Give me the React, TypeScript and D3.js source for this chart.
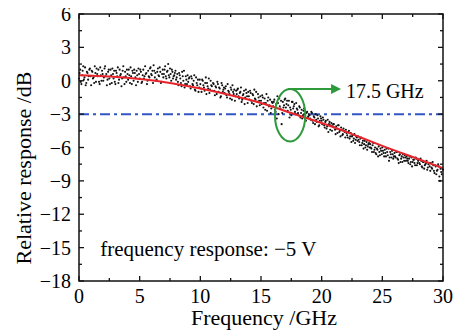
import React from "react";
import * as d3 from "d3";

const FREQ_STEP = 0.1;
// measured relative response (dB), trace A: one value per 0.1 GHz from 0 to 30 GHz
const responseA: number[] = [
  0.2, 1.0, -0.3, 0.9, 0.1, 1.2, -0.2, 0.7, 0.4, 1.1,
  -0.4, 0.8, 0.3, 1.3, -0.1, 0.6, 1.0, -0.3, 0.5, 0.9,
  0.0, 1.1, 0.4, -0.4, 0.8, 0.2, 1.0, -0.2, 0.6, 0.9,
  -0.3, 0.7, 1.2, 0.1, 0.5, -0.5, 0.9, 0.3, 0.8, -0.1,
  0.6, 1.0, -0.2, 0.4, 0.9, 0.0, 0.7, -0.4, 0.5, 1.1,
  0.2, 0.8, -0.1, 1.0, 0.4, 0.6, -0.3, 0.9, 0.3, 1.2,
  0.5, -0.2, 0.9, 0.7, 0.1, 1.1, 0.4, 0.8, -0.1, 1.0,
  0.6, 1.3, 0.2, 0.9, 0.5, 1.1, 0.0, 0.8, 0.4, 0.7,
  0.1, 0.6, -0.4, 0.5, -0.2, 0.8, 0.0, -0.6, 0.4, -0.3,
  -0.1, 0.3, -0.7, 0.2, -0.4, 0.5, -0.9, -0.2, 0.1, -0.6,
  -0.3, -1.0, 0.0, -0.6, -0.2, -1.2, -0.5, 0.2, -0.8, -0.4,
  -0.9, -0.3, -1.3, -0.6, -0.1, -1.0, -0.7, -1.4, -0.4, -0.8,
  -1.1, -0.5, -1.5, -0.9, -1.2, -0.6, -1.7, -1.0, -0.8, -1.4,
  -1.2, -0.7, -1.6, -1.0, -1.9, -1.3, -0.9, -1.5, -1.1, -2.0,
  -1.4, -0.9, -1.8, -1.2, -2.1, -1.6, -1.0, -1.9, -1.5, -2.2,
  -1.8, -1.3, -2.4, -1.6, -2.0, -2.7, -1.5, -2.2, -2.9, -1.9,
  -2.3, -1.7, -2.8, -3.4, -2.0, -1.6, -2.5, -3.9, -1.9, -2.2,
  -1.6, -2.1, -2.7, -1.8, -2.4, -3.1, -1.9, -2.3, -2.8, -2.0,
  -2.6, -3.1, -2.4, -2.9, -3.4, -2.7, -3.0, -3.6, -2.8, -3.2,
  -3.1, -3.5, -2.9, -3.8, -3.3, -3.0, -3.7, -3.4, -4.0, -3.2,
  -3.6, -3.3, -4.0, -3.7, -4.3, -3.5, -3.9, -4.4, -3.8, -4.1,
  -3.9, -4.4, -4.1, -4.7, -4.0, -4.5, -4.2, -4.9, -4.3, -4.6,
  -4.4, -4.9, -4.6, -5.2, -4.7, -5.0, -5.4, -4.8, -5.3, -5.1,
  -5.0, -5.5, -5.2, -5.8, -5.4, -5.7, -6.0, -5.5, -5.9, -5.6,
  -5.7, -6.1, -5.8, -6.4, -6.0, -6.6, -6.2, -5.9, -6.7, -6.3,
  -6.0, -6.5, -6.2, -6.8, -6.4, -6.1, -6.9, -6.6, -6.3, -7.0,
  -6.5, -6.9, -6.4, -7.1, -6.7, -7.3, -6.8, -6.6, -7.2, -6.9,
  -6.8, -7.2, -7.0, -7.5, -6.9, -7.3, -7.1, -7.6, -7.0, -7.4,
  -7.1, -7.5, -7.2, -7.8, -7.3, -7.6, -7.4, -8.0, -7.5, -7.7,
  -7.4, -7.9, -7.6, -8.3, -7.7, -8.1, -7.5, -8.6, -7.9, -8.4,
  -8.0,
];

// trace B: same sweep, sampled half a step later (0.05 GHz offset)
const responseB: number[] = [
  0.7, -0.1, 0.5, 1.3, 0.3, -0.4, 0.8, 0.1, 1.0, 0.4,
  0.9, 0.2, -0.2, 0.7, 1.1, 0.4, -0.1, 1.2, 0.0, 0.6,
  0.3, 1.3, 0.6, 0.1, 1.0, -0.3, 0.5, 1.1, 0.2, -0.1,
  0.9, 0.4, -0.2, 1.0, 0.6, 0.2, 1.3, -0.3, 0.4, 1.0,
  0.1, 0.5, 1.2, -0.3, 0.7, 1.0, 0.3, 0.9, -0.1, 0.6,
  1.0, -0.2, 0.5, 0.2, 1.3, 0.7, 0.0, 0.4, 1.1, 0.6,
  0.9, 1.4, 0.3, 0.0, 0.8, 0.5, 1.2, -0.2, 0.6, 0.3,
  1.0, 0.4, 0.8, 1.5, 0.3, 0.6, 1.0, 0.2, 0.5, 0.9,
  0.3, -0.1, 0.7, 0.2, -0.5, 0.4, 0.9, -0.3, 0.1, 0.5,
  0.2, -0.5, 0.4, -0.3, 0.0, -0.8, 0.3, -0.4, -1.0, 0.1,
  -0.7, 0.1, -0.4, -0.9, 0.3, -0.2, -0.7, -1.1, 0.0, -0.5,
  -0.2, -0.9, -0.5, -1.2, -0.3, -0.6, -1.5, -0.2, -1.0, -0.6,
  -0.7, -1.3, -0.3, -1.0, -1.6, -0.8, -0.4, -1.2, -1.8, -0.9,
  -0.8, -1.4, -1.1, -0.6, -1.7, -1.2, -2.1, -0.8, -1.4, -1.0,
  -1.7, -1.1, -2.0, -1.3, -0.8, -1.7, -2.3, -1.2, -1.8, -1.4,
  -2.1, -1.5, -2.0, -2.6, -1.2, -1.8, -2.3, -1.7, -2.5, -2.0,
  -1.9, -2.6, -2.1, -1.4, -3.0, -2.3, -1.8, -2.9, -2.4, -1.7,
  -2.4, -1.8, -2.2, -3.3, -2.6, -1.9, -2.5, -2.1, -3.0, -2.5,
  -2.9, -2.3, -3.3, -2.6, -3.1, -2.5, -3.5, -2.9, -3.3, -3.0,
  -3.4, -2.8, -3.6, -3.2, -3.9, -3.5, -3.1, -4.1, -3.6, -3.4,
  -3.9, -3.5, -4.2, -3.6, -4.1, -4.6, -3.7, -4.0, -4.5, -3.9,
  -4.2, -4.8, -4.3, -4.0, -4.6, -5.0, -4.4, -4.8, -4.5, -5.1,
  -4.7, -5.1, -4.5, -5.0, -5.5, -4.9, -5.2, -5.6, -5.0, -5.4,
  -5.3, -5.8, -5.1, -5.6, -6.1, -5.4, -5.8, -6.2, -5.7, -6.0,
  -6.0, -6.4, -5.6, -6.2, -6.5, -6.1, -6.8, -6.4, -6.1, -6.6,
  -6.3, -6.8, -6.5, -6.1, -6.7, -7.2, -6.4, -6.9, -6.6, -6.8,
  -6.8, -6.4, -7.0, -7.4, -6.6, -7.0, -7.3, -6.9, -6.7, -7.2,
  -7.0, -7.4, -6.8, -7.3, -7.7, -7.1, -7.4, -6.9, -7.6, -7.2,
  -7.4, -7.0, -7.7, -7.3, -7.9, -7.5, -7.2, -7.8, -7.4, -8.1,
  -7.8, -7.3, -8.1, -7.6, -8.4, -8.0, -7.7, -9.0, -8.2, -7.9,
];

// fitted curve
const fitFreq = [0, 2.5, 5, 7.5, 10, 12.5, 15, 17.5, 20, 22.5, 25, 27.5, 30];
const fitDb = [0.5, 0.38, 0.15, -0.2, -0.7, -1.3, -2.0, -2.9, -3.8, -4.8, -5.85, -6.85, -7.85];

const xTicks = [0, 5, 10, 15, 20, 25, 30];
const xMinor = [2.5, 7.5, 12.5, 17.5, 22.5, 27.5];
const yTicks = [6, 3, 0, -3, -6, -9, -12, -15, -18];
const yMinor = [4.5, 1.5, -1.5, -4.5, -7.5, -10.5, -13.5, -16.5];

const cutoffDb = -3;
const cutoffLabel = "17.5 GHz";
const noteLabel = "frequency response: \u22125 V";

const W = 465;
const H = 331;
const PAGE_MARGIN = 8;
const L = 79;
const R = 443;
const T = 14;
const B = 281;

const fmt = (v: number) => (v < 0 ? "\u2212" + Math.abs(v) : String(v));

function Label(props: { x: number; y: number; size: number; anchor?: string; transform?: string; children: React.ReactNode }) {
  return (
    <text
      x={props.x}
      y={props.y}
      transform={props.transform}
      textAnchor={props.anchor || "start"}
      fontFamily="Liberation Serif"
      style={{ fontFamily: '"Liberation Serif"' }}
      fontSize={props.size}
    >
      {props.children}
    </text>
  );
}

export default function App() {
  const x = d3.scaleLinear().domain([0, 30]).range([L, R]);
  const y = d3.scaleLinear().domain([-18, 6]).range([B, T]);

  const fitLine = d3
    .line<number>()
    .x((_, i) => x(fitFreq[i]))
    .y((d) => y(d))
    .curve(d3.curveNatural)(fitDb) as string;

  const green = "#2f9a3c";
  const ellCx = x(17.4);
  const ellCy = y(-3.1);
  const ellRx = x(1.25) - x(0);
  const ellRy = y(0) - y(2.35);
  const arrowY = ellCy - ellRy;
  const arrowX0 = ellCx - 2;
  const arrowX1 = x(21.6);

  return (
    <svg width={W} height={H}>
      <g transform={`translate(${-PAGE_MARGIN},${-PAGE_MARGIN})`}>
        <line
          x1={x(0)}
          x2={x(30)}
          y1={y(cutoffDb)}
          y2={y(cutoffDb)}
          stroke="#3355c4"
          strokeWidth={2}
          strokeDasharray="10,4,3,4"
        />
        <g fill="#111">
          {responseA.map((v, i) => (
            <circle key={"a" + i} cx={x(i * FREQ_STEP)} cy={y(v)} r={1.05} />
          ))}
          {responseB.map((v, i) => (
            <circle key={"b" + i} cx={x(i * FREQ_STEP + FREQ_STEP / 2)} cy={y(v)} r={1.05} />
          ))}
        </g>
        <path d={fitLine} fill="none" stroke="#e8242a" strokeWidth={2} />
        <ellipse cx={ellCx} cy={ellCy} rx={ellRx} ry={ellRy} fill="none" stroke={green} strokeWidth={2} />
        <line x1={arrowX0} x2={arrowX1 - 6} y1={arrowY} y2={arrowY} stroke={green} strokeWidth={2} />
        <path
          d={`M${arrowX1},${arrowY} L${arrowX1 - 10},${arrowY - 5} L${arrowX1 - 10},${arrowY + 5} Z`}
          fill={green}
        />
        <Label x={x(22.0)} y={y(-1.55)} size={20}>
          {cutoffLabel}
        </Label>
        <Label x={x(1.75)} y={y(-15.75)} size={21}>
          {noteLabel}
        </Label>
        <rect x={L} y={T} width={R - L} height={B - T} fill="none" stroke="#111" strokeWidth={1.5} />
        <g stroke="#111" strokeWidth={1.3}>
          {xTicks.map((t) => (
            <g key={"xt" + t}>
              <line x1={x(t)} x2={x(t)} y1={B} y2={B - 5} />
              <line x1={x(t)} x2={x(t)} y1={T} y2={T + 5} />
            </g>
          ))}
          {xMinor.map((t) => (
            <g key={"xm" + t}>
              <line x1={x(t)} x2={x(t)} y1={B} y2={B - 3} />
              <line x1={x(t)} x2={x(t)} y1={T} y2={T + 3} />
            </g>
          ))}
          {yTicks.map((t) => (
            <g key={"yt" + t}>
              <line x1={L} x2={L + 5} y1={y(t)} y2={y(t)} />
              <line x1={R} x2={R - 5} y1={y(t)} y2={y(t)} />
            </g>
          ))}
          {yMinor.map((t) => (
            <g key={"ym" + t}>
              <line x1={L} x2={L + 3} y1={y(t)} y2={y(t)} />
              <line x1={R} x2={R - 3} y1={y(t)} y2={y(t)} />
            </g>
          ))}
        </g>
        {xTicks.map((t) => (
          <Label key={"xl" + t} x={x(t)} y={B + 22} size={20} anchor="middle">
            {fmt(t)}
          </Label>
        ))}
        {yTicks.map((t) => (
          <Label key={"yl" + t} x={L - 8} y={y(t) + 7} size={20} anchor="end">
            {fmt(t)}
          </Label>
        ))}
        <Label x={(L + R) / 2 + 3} y={H - 6} size={22} anchor="middle">
          Frequency /GHz
        </Label>
        <Label x={0} y={0} size={22} anchor="middle" transform="translate(31, 168) rotate(-90)">
          Relative response /dB
        </Label>
      </g>
    </svg>
  );
}
